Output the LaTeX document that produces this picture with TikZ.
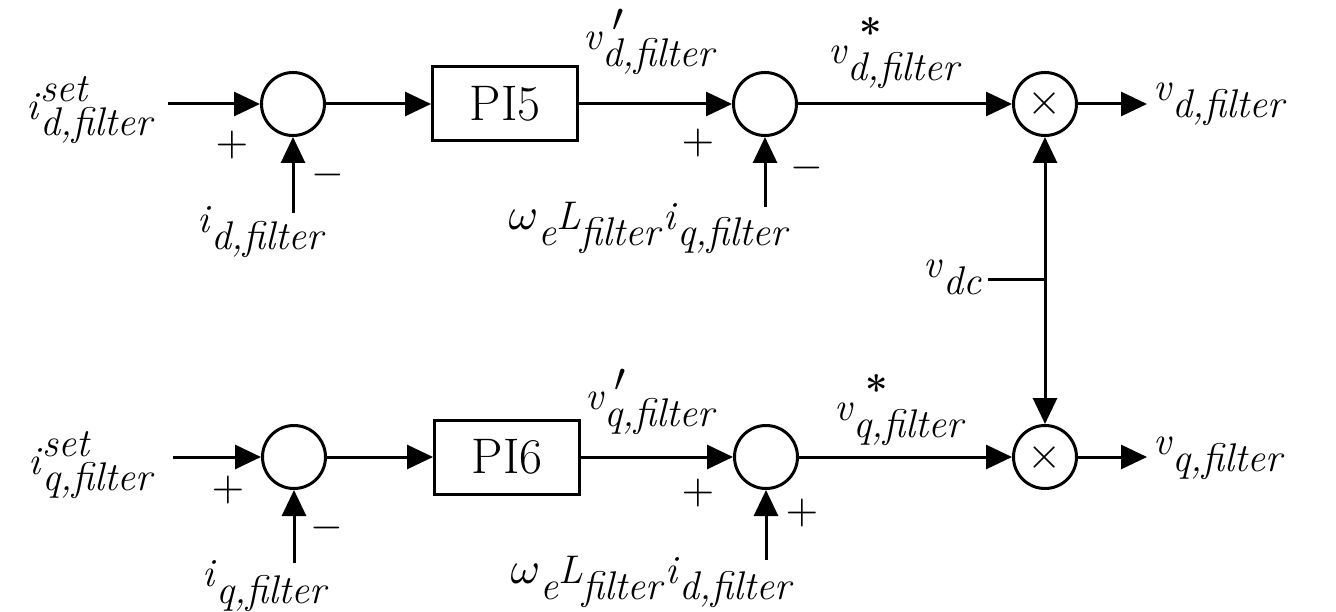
\documentclass[tikz,border=0pt]{standalone}
\usepackage{graphicx}
\usetikzlibrary{arrows.meta}
\newcommand\mth[2]{\scalebox{#1}{\fontsize{10}{12}\selectfont$#2$}}
\newcommand\lab[3]{\textit{#1}\rlap{\raisebox{0.45em}{\textit{#2}}}\raisebox{-0.42em}{\textit{#3}}}
\newcommand\labp[2]{\textit{#1}\rlap{\kern10pt\raisebox{18pt}{\mth{4}{\prime}}}\raisebox{-0.42em}{\textit{#2}}}
\newcommand\labs[2]{\textit{#1}\rlap{\kern12pt\raisebox{16pt}{\bfseries *}}\raisebox{-0.42em}{\textit{#2}}}
\newcommand\lowsub[1]{\raisebox{-0.42em}{\textit{#1}}}
\begin{document}
\begin{tikzpicture}[x=1pt,y=-1pt,line width=3pt,
  >={Triangle[length=26pt,width=24pt]},
  sumnode/.style={circle,draw,minimum size=63pt,inner sep=0pt},
  block/.style={draw,minimum width=145pt,minimum height=74pt,inner sep=0pt,font=\fontsize{50}{60}\selectfont},
  lbl/.style={inner sep=0pt,font=\fontsize{40}{50}\selectfont},
  sgn/.style={inner sep=0pt},
  mult/.style={sumnode}]
\useasboundingbox (0,0) rectangle (1336,612);
% top row
\node[sumnode] (s1) at (293,104) {};
\node[block] (pi5) at (505,104) {PI5};
\node[sumnode] (s2) at (765,104) {};
\node[mult] (m1) at (1045,104) {\mth{4.4}{\times}};
% bottom row
\node[sumnode] (s3) at (294,457) {};
\node[block] (pi6) at (507,457) {PI6};
\node[sumnode] (s4) at (766,457) {};
\node[mult] (m2) at (1045,457) {\mth{4.4}{\times}};
% coordinates
\coordinate (in1) at (168,104);
\coordinate (in2) at (173,457);
\coordinate (out1) at (1147,104);
\coordinate (out2) at (1147,457);
\coordinate (f1) at (293,213);
\coordinate (f2) at (765,207);
\coordinate (f3) at (294,563);
\coordinate (f4) at (766,560);
\coordinate (j) at (1045,280);
\coordinate (dc) at (988,280);
% labels
\node[lbl] (l1) at (91,110) {\lab{i}{set}{d,filter}};
\node[lbl] (l2) at (92,465) {\lab{i}{set}{q,filter}};
\node[lbl] (l3) at (262,232) {\lab{i}{}{d,filter}};
\node[lbl] (l4) at (266,586) {\lab{i}{}{q,filter}};
\node[lbl] (l5) at (649,228) {\mth{4.5}{\omega}\lowsub{e}\textit{L}\lowsub{filter}\textit{i}\lowsub{q,filter}};
\node[lbl] (l6) at (652,582) {\mth{4.5}{\omega}\lowsub{e}\textit{L}\lowsub{filter}\textit{i}\lowsub{d,filter}};
\node[lbl] (l7) at (650,42) {\labp{v}{d,filter}};
\node[lbl] (l8) at (895,53) {\labs{v}{d,filter}};
\node[lbl] (l9) at (651,402) {\labp{v}{q,filter}};
\node[lbl] (l10) at (900,410) {\labs{v}{q,filter}};
\node[lbl,anchor=west] (l11) at (1152,104) {\lab{v}{}{d,filter}};
\node[lbl,anchor=west] (l12) at (1152,458) {\lab{v}{}{q,filter}};
\node[lbl,anchor=east] (l13) at (983,277) {\lab{v}{}{dc}};
% signs
\node[sgn] (p1) at (232,145) {\mth{4.2}{+}};
\node[sgn] (n1) at (328,175) {\mth{4.2}{-}};
\node[sgn] (p2) at (698,143) {\mth{4.2}{+}};
\node[sgn] (n2) at (807,168) {\mth{4.2}{-}};
\node[sgn] (p3) at (228,490) {\mth{4.2}{+}};
\node[sgn] (n3) at (327,528) {\mth{4.2}{-}};
\node[sgn] (p4) at (698,493) {\mth{4.2}{+}};
\node[sgn] (p5) at (802,513) {\mth{4.2}{+}};
% connectors
\draw[->] (in1) -- (s1);
\draw[->] (s1) -- (pi5);
\draw[->] (pi5) -- (s2);
\draw[->] (s2) -- (m1);
\draw[->] (m1) -- (out1);
\draw[->] (f1) -- (s1);
\draw[->] (f2) -- (s2);
\draw[->] (in2) -- (s3);
\draw[->] (s3) -- (pi6);
\draw[->] (pi6) -- (s4);
\draw[->] (s4) -- (m2);
\draw[->] (m2) -- (out2);
\draw[->] (f3) -- (s3);
\draw[->] (f4) -- (s4);
\draw (dc) -- (j);
\draw[->] (j) -- (m1);
\draw[->] (j) -- (m2);
\end{tikzpicture}
\end{document}
